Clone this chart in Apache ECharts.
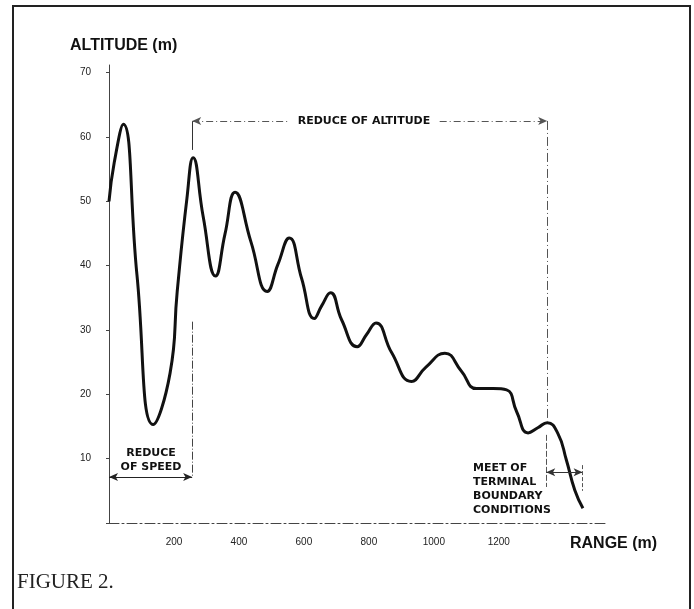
<!DOCTYPE html>
<html><head><meta charset="utf-8">
<script src="https://cdn.jsdelivr.net/npm/echarts@6/dist/echarts.min.js"></script>
<style>html,body{margin:0;padding:0;background:#fff;}#c{width:694px;height:609px;}</style>
</head><body><div id="c"></div>
<script>
// Range (m) and altitude (m) (extrema and slope crossings)
const rangeM = [0, 16, 44, 86, 136, 188, 210, 240, 259, 290, 328, 357, 388, 437, 487, 520, 555, 593, 632, 655, 682, 716, 764, 793, 822, 870, 931, 975, 1034, 1085, 1131, 1183, 1224, 1255, 1290, 1320, 1349, 1382, 1408, 1434, 1459];
const altitude = [50, 56, 62, 38.6, 15.3, 23.3, 36, 50.5, 56.8, 47.6, 38.4, 44.9, 51.4, 43.7, 36, 40.2, 44.3, 38, 31.8, 33.8, 35.8, 31.6, 27.4, 29.3, 31.1, 26.5, 22, 24.2, 26.4, 23.6, 20.9, 20.9, 20.7, 17.3, 14, 14.8, 15.6, 13.9, 9.8, 5.1, 2.3];
const yTicks = [10, 20, 30, 40, 50, 60, 70];
const xTicks = [200, 400, 600, 800, 1000, 1200];

// Annotation brackets in data units [range, altitude]
const speedSpan = [[0, 7.15], [256, 7.15]];
const speedRight = [[256, 31.3], [256, 7.15]];
const altLeftTick = [[256, 62.5], [256, 58.0]];
const altSpanA = [[256, 62.5], [551, 62.5]];
const altSpanB = [[1018, 62.5], [1349, 62.5]];
const altRight = [[1349, 62.5], [1349, 15.6]];
const meetLeft = [[1346, 13.7], [1346, 5.6]];
const meetSpan = [[1346, 7.9], [1458, 7.9]];
const meetRight = [[1458, 9.0], [1458, 5.0]];

const chart = echarts.init(document.getElementById('c'), null, {renderer: 'canvas'});
const ink = '#111';
const dashDot = [7, 3, 1, 3];
function seg(p, opts) {
  opts = opts || {};
  return [
    {coord: p[0], symbol: opts.s0 || 'none', symbolSize: [6, 9], lineStyle: {color: opts.color || '#333', width: opts.width || 1, type: opts.type || 'solid'}},
    {coord: p[1], symbol: opts.s1 || 'none', symbolSize: [6, 9]}
  ];
}
const option = {
  animation: false,
  backgroundColor: '#fff',
  grid: {left: 109, right: 88, top: 65, bottom: 86},
  xAxis: {
    type: 'value', min: 0, max: 1530, interval: 200,
    axisLine: {show: true, lineStyle: {color: '#444', width: 1, type: [10, 3, 2, 3]}},
    axisTick: {show: false},
    splitLine: {show: false},
    axisLabel: {
      margin: 14, color: '#222', fontSize: 10, fontFamily: 'Liberation Sans',
      formatter: v => (xTicks.indexOf(v) >= 0 ? String(v) : '')
    }
  },
  yAxis: {
    type: 'value', min: 0, max: 71.2, interval: 10,
    axisLine: {show: true, lineStyle: {color: '#444', width: 1}},
    axisTick: {show: true, length: 3, lineStyle: {color: '#444'}},
    splitLine: {show: false},
    axisLabel: {
      margin: 18, color: '#222', fontSize: 10, fontFamily: 'Liberation Sans',
      showMaxLabel: false,
      formatter: v => (yTicks.indexOf(v) >= 0 ? String(v) : '')
    }
  },
  series: [{
    type: 'line',
    data: rangeM.map((x, i) => [x, altitude[i]]),
    smooth: 0.5,
    symbol: 'none',
    lineStyle: {color: ink, width: 3},
    markLine: {
      silent: true,
      animation: false,
      label: {show: false},
      data: [
        seg(speedSpan, {s0: 'arrow', s1: 'arrow', color: '#222'}),
        seg(speedRight, {type: [8, 2, 1, 2], color: '#444'}),
        seg(altLeftTick, {color: '#333'}),
        seg(altSpanA, {s0: 'arrow', type: dashDot, color: '#555'}),
        seg(altSpanB, {s1: 'arrow', type: dashDot, color: '#555'}),
        seg(altRight, {type: [9, 3, 1, 3], color: '#555'}),
        seg(meetLeft, {type: [6, 2], color: '#555'}),
        seg(meetSpan, {s0: 'arrow', s1: 'arrow', color: '#333'}),
        seg(meetRight, {type: [4, 2], color: '#555'})
      ]
    }
  }],
  graphic: [
    {type: 'rect', shape: {x: 13, y: 6, width: 677, height: 620}, style: {fill: 'none', stroke: '#222', lineWidth: 2}, silent: true},
    {type: 'text', left: 70, top: 38, style: {text: 'ALTITUDE (m)', font: 'bold 16px "Liberation Sans"', fill: ink}},
    {type: 'text', left: 570, top: 536, style: {text: 'RANGE (m)', font: 'bold 16px "Liberation Sans"', fill: ink}},
    {type: 'text', left: 17, top: 572, style: {text: 'FIGURE 2.', font: '21px "Liberation Serif"', fill: '#222'}},
    {type: 'text', x: 364, y: 121, style: {text: 'REDUCE OF ALTITUDE', font: 'bold 11px "DejaVu Sans"', fill: ink, align: 'center', verticalAlign: 'middle'}},
    {type: 'text', x: 151, y: 453, style: {text: 'REDUCE', font: 'bold 11px "DejaVu Sans"', fill: ink, align: 'center', verticalAlign: 'middle'}},
    {type: 'text', x: 151, y: 467, style: {text: 'OF SPEED', font: 'bold 11px "DejaVu Sans"', fill: ink, align: 'center', verticalAlign: 'middle'}},
    {type: 'text', x: 473, y: 468, style: {text: 'MEET OF', font: 'bold 11px "DejaVu Sans"', fill: ink, align: 'left', verticalAlign: 'middle'}},
    {type: 'text', x: 473, y: 482, style: {text: 'TERMINAL', font: 'bold 11px "DejaVu Sans"', fill: ink, align: 'left', verticalAlign: 'middle'}},
    {type: 'text', x: 473, y: 496, style: {text: 'BOUNDARY', font: 'bold 11px "DejaVu Sans"', fill: ink, align: 'left', verticalAlign: 'middle'}},
    {type: 'text', x: 473, y: 510, style: {text: 'CONDITIONS', font: 'bold 11px "DejaVu Sans"', fill: ink, align: 'left', verticalAlign: 'middle'}}
  ]
};
chart.setOption(option);
</script>
</body></html>
